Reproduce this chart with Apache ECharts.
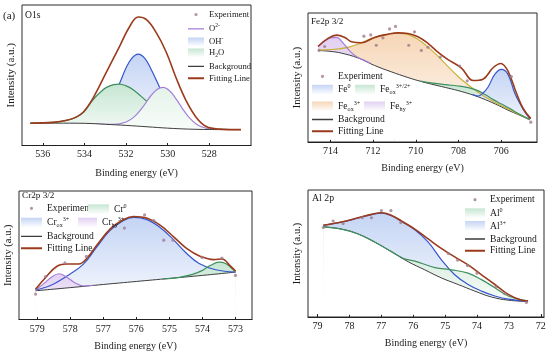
<!DOCTYPE html>
<html><head><meta charset="utf-8">
<script src="https://cdn.jsdelivr.net/npm/echarts@6/dist/echarts.min.js"></script>
<style>html,body{margin:0;padding:0;background:#fff}#c{width:550px;height:357px}</style>
</head><body><div id="c"></div>
<script>
// ---------- DATA (binding energy eV, relative intensity 0-100) ----------
// (a) O1s
const o1sXLabels = [536, 534, 532, 530, 528];
const o1sXMinor = [535, 533, 531, 529, 527];
const o1sExperiment = [];
const o1sBackground = [[536.6,14.2],[535.0,14.2],[534.0,14.1],[533.0,13.4],[532.0,12.6],[531.0,11.6],[530.0,10.6],[529.0,9.9],[528.0,9.6],[526.5,9.5]];
const o1sOH = [[533.9,15.6],[533.5,18.2],[533.2,21.5],[532.9,26.5],[532.6,33.5],[532.3,43.5],[532.0,54.5],[531.7,61.8],[531.42,64.4],[531.1,61.3],[530.8,53.4],[530.5,43.9],[530.2,33.6],[529.9,24.5],[529.6,18.6],[529.3,14.4],[528.9,11.3],[528.3,9.8]];
const o1sH2O = [[536.6,14.2],[535.5,14.8],[534.85,16.3],[534.4,18.5],[534.05,22.0],[533.58,31.4],[533.2,37.2],[532.94,40.2],[532.6,42.2],[532.33,42.6],[532.0,41.3],[531.66,38.5],[531.02,30.3],[530.39,22.0],[529.75,16.1],[529.11,12.5],[528.15,10.2],[526.48,9.5]];
const o1sO2 = [[533.5,13.8],[532.6,13.3],[532.0,15.1],[531.6,19.0],[531.2,25.9],[530.8,34.3],[530.5,38.9],[530.23,40.2],[529.9,37.6],[529.6,31.8],[529.3,25.0],[529.0,18.8],[528.6,13.3],[528.2,10.7],[527.6,9.6],[526.5,9.5]];
const o1sFit = [[536.6,14.2],[535.5,14.8],[534.85,16.3],[534.4,18.6],[534.05,22.3],[533.58,32.6],[532.94,51.5],[532.3,70.4],[531.82,84.6],[531.42,91.3],[531.02,89.4],[530.55,79.9],[530.07,65.7],[529.59,46.8],[529.11,30.3],[528.63,18.4],[528.15,11.8],[527.52,9.9],[526.48,9.5]];

// Fe2p 3/2
const feXLabels = [714, 712, 710, 708, 706];
const feXMinor = [713, 711, 709, 707, 705];
const feExperiment = [[714.53,70.4],[714.27,73.5],[712.43,81.7],[712.11,82.7],[711.85,74.5],[711.54,80.4],[711.23,87.4],[710.95,89.4],[710.33,74.5],[710.06,85.1],[709.74,70.4],[709.43,72.9],[708.85,65.2],[707.94,58.0],[707.59,46.4],[705.52,49.7],[704.61,13.7]];
const feBackground = [[714.58,70.4],[713.98,69.6],[713.49,68.3],[712.71,64.5],[711.93,58.5],[711.15,53.5],[710.37,49.0],[709.78,46.0],[709.28,43.8],[708.61,41.1],[708.03,38.7],[707.44,35.8],[706.92,32.7],[706.27,28.0],[705.68,23.2],[705.15,19.3],[704.66,15.5]];
const feFe0 = [[707.34,35.5],[707.08,34.3],[706.86,36.5],[706.61,41.5],[706.30,51.5],[705.99,55.4],[705.68,51.5],[705.36,36.5],[704.97,24.0],[704.66,16.5]];
const feFeox32 = [[709.78,46.1],[709.20,44.5],[708.61,43.3],[708.03,42.3],[707.54,41.0],[707.15,39.0],[706.76,35.5],[706.37,31.5],[705.98,28.0],[705.59,24.5],[705.20,20.5],[704.66,15.8]];
const feFeox3 = [[714.58,70.6],[714.07,71.0],[713.59,71.6],[713.10,73.2],[712.61,76.0],[712.12,79.5],[711.54,82.5],[710.95,84.0],[710.47,83.5],[709.98,80.0],[709.49,74.0],[709.00,66.5],[708.51,58.0],[708.03,50.0],[707.54,43.0],[707.05,37.0],[706.56,31.8],[706.08,27.5],[705.59,23.5],[705.15,19.8],[704.66,15.8]];
const feFehy3 = [[714.58,73.5],[714.27,78.0],[713.98,80.3],[713.72,80.7],[713.39,76.0],[713.10,70.0],[712.81,65.8],[712.51,63.3],[712.12,60.3]];
const feFit = [[714.58,73.5],[714.11,79.9],[713.72,82.5],[713.33,80.7],[713.02,77.3],[712.55,76.5],[711.93,80.7],[711.30,83.2],[710.84,84.3],[710.37,83.8],[709.90,81.2],[709.43,76.0],[708.95,68.8],[708.49,63.1],[707.86,56.5],[707.31,46.6],[706.85,47.7],[706.38,56.7],[706.02,60.1],[705.68,54.1],[705.29,37.0],[704.97,24.5],[704.61,16.5]];

// Cr2p 3/2
const crXLabels = [579, 578, 577, 576, 575, 574, 573];
const crXMinor = [578.5, 577.5, 576.5, 575.5, 574.5, 573.5];
const crExperiment = [[579.05,18.2],[578.75,32.0],[578.16,42.9],[577.51,48.1],[576.36,70.6],[575.75,81.0],[575.47,76.6],[575.17,61.0],[574.89,61.0],[574.01,47.3],[573.41,46.8],[573.0,33.0]];
const crBackground = [[579.05,20.8],[578.0,23.3],[577.0,25.8],[576.0,28.2],[575.0,30.6],[574.0,33.0],[573.0,35.6]];
const crCr0 = [[575.2,30.2],[574.7,31.5],[574.3,33.8],[574.0,37.0],[573.75,41.0],[573.5,43.5],[573.3,42.5],[573.15,39.5],[573.0,36.0]];
const crCrox3 = [[579.05,21.5],[578.6,25.0],[578.1,32.5],[577.6,42.0],[577.2,55.5],[576.8,68.5],[576.4,76.5],[576.08,79.0],[575.7,77.5],[575.3,71.5],[574.9,62.0],[574.5,51.0],[574.1,42.5],[573.6,37.5],[573.0,35.6]];
const crCrhy3 = [[579.05,21.5],[578.8,26.5],[578.55,32.0],[578.34,34.3],[578.1,31.5],[577.85,27.0],[577.6,24.6],[577.3,25.2]];
const crFit = [[579.05,22.1],[578.75,31.2],[578.4,40.3],[578.09,42.1],[577.74,42.1],[577.49,46.8],[577.19,57.1],[576.78,70.1],[576.38,77.4],[576.08,79.7],[575.67,78.4],[575.27,72.7],[574.87,63.6],[574.46,54.0],[574.06,48.1],[573.66,45.5],[573.41,46.0],[573.15,40.3],[573.0,36.4]];

// Al 2p
const alXLabels = [79, 78, 77, 76, 75, 74, 73, 72];
const alXMinor = [78.5, 77.5, 76.5, 75.5, 74.5, 73.5, 72.5];
const alExperiment = [[78.82,69.9],[78.51,75.1],[78.2,73.0],[77.6,77.7],[77.31,77.7],[77.0,83.5],[76.7,83.5],[76.39,73.8],[74.9,49.0],[74.61,43.7],[74.3,39.3],[74.0,33.2],[73.41,22.3],[73.13,16.8],[72.45,9.7]];
const alBackground = [[78.82,70.4],[78.25,68.6],[77.73,64.7],[77.2,58.1],[76.68,50.3],[76.16,42.4],[75.64,35.9],[75.11,29.3],[74.59,24.1],[74.07,18.8],[73.55,14.1],[73.02,11.5],[72.4,10.5]];
const alAl0 = [[78.82,70.4],[78.25,68.6],[77.73,64.7],[77.2,58.1],[76.68,50.5],[76.3,45.0],[75.95,42.9],[75.32,37.7],[74.8,35.9],[74.28,33.2],[73.86,28.0],[73.44,21.5],[73.02,14.9],[72.4,11.0]];
const alAl3 = [[78.82,71.7],[78.25,74.2],[77.73,77.5],[77.31,80.2],[77.0,81.4],[76.68,79.3],[76.37,74.8],[75.95,68.0],[75.53,58.1],[75.11,43.7],[74.7,31.9],[74.28,24.1],[73.86,18.8],[73.44,14.9],[73.02,12.3],[72.4,10.5]];
const alFit = [[78.82,71.7],[78.25,74.3],[77.73,77.7],[77.31,80.4],[77.0,81.7],[76.68,79.6],[76.37,75.1],[75.95,68.6],[75.53,60.7],[75.11,52.9],[74.7,46.3],[74.28,39.8],[73.86,31.9],[73.44,24.1],[73.02,16.2],[72.6,11.5],[72.4,11.0]];

// ---------- STYLE ----------
const FONT = "'Liberation Serif','Times New Roman',serif";
const TXT = '#1a1a1a';
const C = {
  fit: '#9b3b1c', bg: '#3d3d3d', blue: '#3556cc', green: '#3f8f5f', purple: '#a57fd6', yellow: '#c9b23a', exp: '#a07a8a'
};
const F = {
  blue: '#c4d4f4', green: '#c6e6d2', purple: '#e2d0f2', yellow: '#f6d6b6', mint: '#e3f3e9'
};
function grad(c) {
  return new echarts.graphic.LinearGradient(0, 0, 0, 1, [{offset: 0, color: c}, {offset: 1, color: '#ffffff'}]);
}

const grids = [
  {left: 22, top: 5, width: 229, height: 140.5},
  {left: 308, top: 13, width: 229, height: 129},
  {left: 19, top: 191, width: 233, height: 128.5},
  {left: 308, top: 190, width: 236, height: 127}
];
const axesSpec = [
  {min: 526, max: 537, labels: o1sXLabels, minor: o1sXMinor, margin: 4, nameGap: 23, yGap: 5, yFs: 11},
  {min: 704.32, max: 715.05, labels: feXLabels, minor: feXMinor, margin: 4, nameGap: 21.5, yGap: 5, yFs: 10.5},
  {min: 572.5, max: 579.55, labels: crXLabels, minor: crXMinor, margin: 5, nameGap: 22, yGap: 5, yFs: 10.5},
  {min: 71.9, max: 79.3, labels: alXLabels, minor: alXMinor, margin: 4.5, nameGap: 21.5, yGap: 5, yFs: 10.5}
];

const xAxis = [], yAxis = [];
axesSpec.forEach((a, i) => {
  xAxis.push({
    type: 'value', gridIndex: i, position: 'bottom', min: a.min, max: a.max, inverse: true,
    axisLine: {show: true, onZero: false, lineStyle: {color: '#222', width: 1.2}},
    axisTick: {show: true, inside: true, length: 3, customValues: a.labels, lineStyle: {color: '#222'}},
    axisLabel: {show: true, customValues: a.labels, margin: a.margin, fontSize: 10, fontFamily: FONT, color: TXT},
    splitLine: {show: false},
    name: 'Binding energy (eV)', nameLocation: 'middle', nameGap: a.nameGap,
    nameTextStyle: {fontSize: 10, fontFamily: FONT, color: TXT}
  });
  yAxis.push({
    type: 'value', gridIndex: i, min: -2, max: 100,
    axisLine: {show: false}, axisTick: {show: false}, axisLabel: {show: false}, splitLine: {show: false},
    name: 'Intensity (a.u.)', nameLocation: 'middle', nameRotate: 90, nameGap: a.yGap,
    nameTextStyle: {fontSize: a.yFs, fontFamily: FONT, color: TXT}
  });
});
axesSpec.forEach((a, i) => {
  xAxis.push({
    type: 'value', gridIndex: i, position: 'bottom', offset: 0, min: a.min, max: a.max, inverse: true,
    axisLine: {show: false},
    axisTick: {show: true, inside: true, length: 2, customValues: a.minor, lineStyle: {color: '#222'}},
    axisLabel: {show: false}, splitLine: {show: false}
  });
});

const series = [];
function lineS(name, data, gi, color, width, z) {
  series.push({type: 'line', name, data, xAxisIndex: gi, yAxisIndex: gi, smooth: 0.4, symbol: 'none', showSymbol: false,
    lineStyle: {color, width}, itemStyle: {color}, z, silent: true});
}
function fillS(id, data, gi, top, z) {
  series.push({type: 'line', name: id, data, xAxisIndex: gi, yAxisIndex: gi, smooth: 0.4, symbol: 'none', showSymbol: false,
    lineStyle: {width: 0, opacity: 0}, areaStyle: {color: grad(top), opacity: 1}, z, silent: true});
}
function maskBg(data, gi) {
  series.push({type: 'line', name: 'Background', data, xAxisIndex: gi, yAxisIndex: gi, smooth: 0.4, symbol: 'none', showSymbol: false,
    lineStyle: {color: C.bg, width: 1}, itemStyle: {color: C.bg}, areaStyle: {color: '#ffffff', opacity: 1}, z: 4, silent: true});
}
function expS(data, gi) {
  series.push({type: 'scatter', name: 'Experiment', data, xAxisIndex: gi, yAxisIndex: gi, symbol: 'circle', symbolSize: 3.2,
    itemStyle: {color: C.exp}, z: 8, silent: true});
}

// Panel 1 (O1s)
fillS('f-oh', o1sOH, 0, F.blue, 2); lineS('OH-', o1sOH, 0, C.blue, 1.2, 2.1);
fillS('f-h2o', o1sH2O, 0, F.green, 2.5); lineS('H2O', o1sH2O, 0, C.green, 1.2, 2.6);
fillS('f-o2', o1sO2, 0, F.mint, 3); lineS('O2-', o1sO2, 0, C.purple, 1.2, 3.1);
maskBg(o1sBackground, 0);
lineS('Fitting Line', o1sFit, 0, C.fit, 1.6, 6);
expS(o1sExperiment, 0);

// Panel 2 (Fe)
fillS('f-feox3', feFeox3, 1, F.yellow, 2);
fillS('f-feox32', feFeox32, 1, F.green, 2);
fillS('f-fehy3', feFehy3, 1, F.purple, 2);
fillS('f-fe0', feFe0, 1, F.blue, 2);
maskBg(feBackground, 1);
lineS('Feox3', feFeox3, 1, C.yellow, 1.2, 5);
lineS('Feox32', feFeox32, 1, C.green, 1.2, 5);
lineS('Fehy3', feFehy3, 1, C.purple, 1.2, 5);
lineS('Fe0', feFe0, 1, C.blue, 1.2, 5);
lineS('Fitting Line', feFit, 1, C.fit, 1.6, 6);
expS(feExperiment, 1);

// Panel 3 (Cr)
fillS('f-crox3', crCrox3, 2, F.blue, 2);
fillS('f-crhy3', crCrhy3, 2, F.purple, 2);
fillS('f-cr0', crCr0, 2, F.green, 2);
maskBg(crBackground, 2);
lineS('Crox3', crCrox3, 2, C.blue, 1.2, 5);
lineS('Crhy3', crCrhy3, 2, C.purple, 1.2, 5);
lineS('Cr0', crCr0, 2, C.green, 1.2, 5);
lineS('Fitting Line', crFit, 2, C.fit, 1.6, 6);
expS(crExperiment, 2);

// Panel 4 (Al)
fillS('f-al3', alAl3, 3, F.blue, 2);
fillS('f-al0', alAl0, 3, F.green, 2);
maskBg(alBackground, 3);
lineS('Al3', alAl3, 3, C.blue, 1.2, 5);
lineS('Al0', alAl0, 3, C.green, 1.2, 5);
lineS('Fitting Line', alFit, 3, C.fit, 1.6, 6);
expS(alExperiment, 3);

// ---------- LEGENDS ----------
const LABELS = {
  'Experiment': '{n|Experiment}', 'Background': '{n|Background}', 'Fitting Line': '{n|Fitting Line}',
  'O2-': '{n|O}{sup|2-}', 'OH-': '{n|OH}{sup|-}', 'H2O': '{n|H}{sub|2}{n|O}',
  'Fe0': '{n|Fe}{sup|0}', 'Feox32': '{n|Fe}{sub|ox}{sup|3+/2+}', 'Feox3': '{n|Fe}{sub|ox}{sup|3+}', 'Fehy3': '{n|Fe}{sub|hy}{sup|3+}',
  'Cr0': '{n|Cr}{sup|0}', 'Crox3': '{n|Cr}{sub|ox}{sup|3+}', 'Crhy3': '{n|Cr}{sub|hy}{sup|3+}',
  'Al0': '{n|Al}{sup|0}', 'Al3': '{n|Al}{sup|3+}'
};
function rich(fs) {
  const s = fs * 0.64;
  return {
    n: {fontSize: fs, fontFamily: FONT, color: TXT, lineHeight: 12},
    sup: {fontSize: s, fontFamily: FONT, color: TXT, lineHeight: s + 1, verticalAlign: 'top'},
    sub: {fontSize: s, fontFamily: FONT, color: TXT, lineHeight: s + 1, verticalAlign: 'bottom'}
  };
}
function corner(w, h) { return `M0,0L0.01,0L0,0.01Z M${w},${h}L${w - 0.01},${h}L${w},${h - 0.01}Z `; }
function dotIcon(w, h) {
  const cx = w / 2, cy = h / 2, r = 1.6;
  return 'path://' + corner(w, h) + `M${cx - r},${cy}A${r},${r},0,1,1,${cx + r},${cy}A${r},${r},0,1,1,${cx - r},${cy}Z`;
}
function lineIcon(w, h, t) {
  return 'path://' + corner(w, h) + `M0,${h / 2 - t / 2}L${w},${h / 2 - t / 2}L${w},${h / 2 + t / 2}L0,${h / 2 + t / 2}Z`;
}
const legends = [];
function leg(name, kind, color, left, cy, w, h, fs) {
  let icon, itemStyle;
  if (kind === 'dot') { icon = dotIcon(w, h); itemStyle = {color, borderWidth: 0}; }
  else if (kind === 'line') { icon = lineIcon(w, h, 1.3); itemStyle = {color, borderWidth: 0}; }
  else if (kind === 'thick') { icon = lineIcon(w, h, 2); itemStyle = {color, borderWidth: 0}; }
  else { icon = 'rect'; itemStyle = {color: grad(color), borderWidth: 0}; }
  legends.push({
    z: 20, left, top: cy - 6, padding: 0, orient: 'horizontal', itemWidth: w, itemHeight: h, itemGap: 0,
    selectedMode: false, data: [{name, icon, itemStyle}],
    formatter: (n) => LABELS[n] || n,
    textStyle: {fontFamily: FONT, fontSize: fs, color: TXT, rich: rich(fs)}
  });
}
// O1s legend
leg('Experiment', 'dot', C.exp, 188, 16, 16, 9, 8.6);
leg('O2-', 'line', C.purple, 188, 28.8, 16, 9, 8.6);
leg('OH-', 'rect', F.blue, 188, 42, 16, 9, 8.6);
leg('H2O', 'rect', F.green, 188, 54.5, 16, 9, 8.6);
leg('Background', 'line', C.bg, 188, 67.8, 16, 9, 8.6);
leg('Fitting Line', 'thick', C.fit, 188, 79.8, 16, 9, 8.6);
// Fe legend
leg('Experiment', 'dot', C.exp, 312, 77.3, 21, 10, 9.6);
leg('Fe0', 'rect', F.blue, 312, 89.8, 21, 10, 9.6);
leg('Feox32', 'rect', F.green, 355, 89.8, 20, 10, 9.6);
leg('Feox3', 'rect', F.yellow, 312, 106.5, 21, 10, 9.6);
leg('Fehy3', 'rect', F.purple, 364, 106.5, 21, 10, 9.6);
leg('Background', 'line', C.bg, 312, 120.5, 21, 10, 9.6);
leg('Fitting Line', 'thick', C.fit, 312, 132.3, 21, 10, 9.6);
// Cr legend
leg('Experiment', 'dot', C.exp, 21, 209.3, 21, 10, 9.6);
leg('Cr0', 'rect', F.green, 88, 209.3, 21, 10, 9.6);
leg('Crox3', 'rect', F.blue, 21, 222.7, 21, 10, 9.6);
leg('Crhy3', 'rect', F.purple, 78, 222.7, 19, 10, 9.6);
leg('Background', 'line', C.bg, 21, 237.3, 21, 10, 9.6);
leg('Fitting Line', 'thick', C.fit, 21, 249.3, 21, 10, 9.6);
// Al legend
leg('Experiment', 'dot', C.exp, 465, 200.7, 20, 10, 9.6);
leg('Al0', 'rect', F.green, 465, 213.3, 20, 10, 9.6);
leg('Al3', 'rect', F.blue, 465, 226, 20, 10, 9.6);
leg('Background', 'line', C.bg, 465, 240, 20, 10, 9.6);
leg('Fitting Line', 'thick', C.fit, 465, 251.7, 20, 10, 9.6);

// ---------- PANEL TITLES ----------
function title(text, x, y, fs) {
  return {type: 'text', x, y, z: 20, silent: true,
    style: {text, font: `${fs}px ${FONT}`, fill: TXT, textVerticalAlign: 'middle', verticalAlign: 'middle'}};
}
const graphic = [
  title('(a)', 3, 15.7, 11),
  title('O1s', 25, 15.7, 9.6),
  title('Fe2p 3/2', 311, 21.5, 9.2),
  title('Cr2p 3/2', 22, 196, 9.2),
  title('Al 2p', 312, 198.3, 9.8)
];

const chart = echarts.init(document.getElementById('c'), null, {renderer: 'canvas'});
chart.setOption({
  animation: false,
  backgroundColor: '#ffffff',
  grid: grids.map(g => Object.assign({show: true, borderColor: '#2a2a2a', borderWidth: 1, backgroundColor: 'transparent'}, g)),
  xAxis, yAxis, series, legend: legends, graphic
});
</script></body></html>
